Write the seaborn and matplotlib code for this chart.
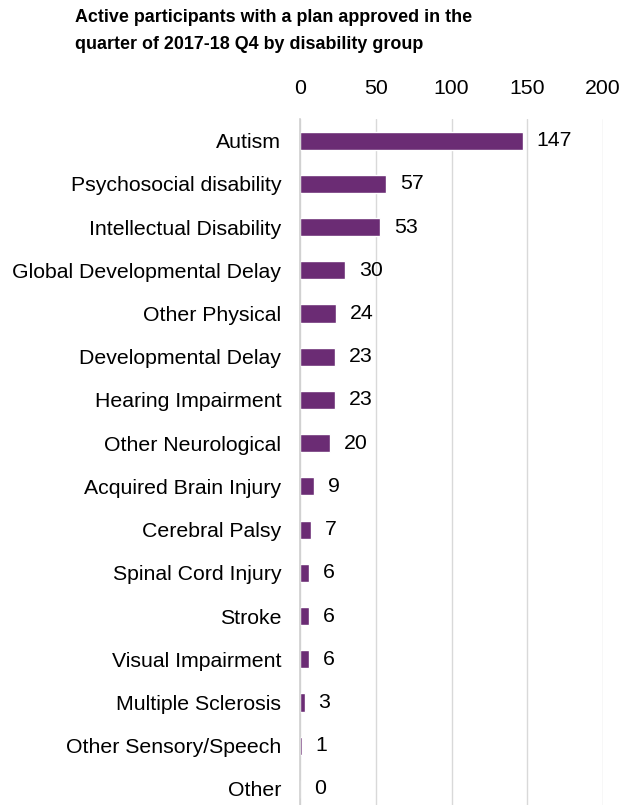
import matplotlib
matplotlib.use("Agg")
import matplotlib.pyplot as plt
import seaborn as sns
import pandas as pd

# data
groups = ["Autism", "Psychosocial disability", "Intellectual Disability",
          "Global Developmental Delay", "Other Physical", "Developmental Delay",
          "Hearing Impairment", "Other Neurological", "Acquired Brain Injury",
          "Cerebral Palsy", "Spinal Cord Injury", "Stroke", "Visual Impairment",
          "Multiple Sclerosis", "Other Sensory/Speech", "Other"]
participants = [147, 57, 53, 30, 24, 23, 23, 20, 9, 7, 6, 6, 6, 3, 1, 0]
x_ticks = [0, 50, 100, 150, 200]

title = "Active participants with a plan approved in the\nquarter of 2017-18 Q4 by disability group"

sns.set_style("white")
plt.rcParams["font.family"] = ["Liberation Sans", "DejaVu Sans"]

df = pd.DataFrame({"group": groups, "n": participants})

fig = plt.figure(figsize=(6.19, 8.05), dpi=100)
ax = fig.add_axes([300 / 619, -5.6 / 805, 303 / 619, 691.6 / 805])

sns.barplot(data=df, y="group", x="n", orient="h", color="#6b2c74",
            saturation=1, width=0.42, ax=ax)

ax.set_xlim(0, 200)
ax.set_ylim(15.5, -0.5)
ax.set_xticks(x_ticks)
ax.xaxis.tick_top()
ax.tick_params(axis="x", length=0, labelsize=15.3, pad=15, colors="black")
ax.tick_params(axis="y", length=0, labelsize=15.3, pad=13.5, colors="black")
ax.set_xlabel("")
ax.set_ylabel("")

ax.grid(axis="x", color="#d9d9d9", linewidth=1)
ax.set_axisbelow(True)
for side in ["top", "right", "bottom"]:
    ax.spines[side].set_visible(False)
ax.spines["left"].set_color("#d0d0d0")
ax.spines["left"].set_linewidth(1.2)

ax.bar_label(ax.containers[0], labels=[str(v) for v in participants],
             padding=10, fontsize=15.3, color="black")

fig.text(75 / 619, 1 - 9 / 805, title, ha="left", va="top", color="black",
         fontsize=12.9, fontweight="bold", linespacing=1.75)

fig.savefig("out.png", dpi=100)
